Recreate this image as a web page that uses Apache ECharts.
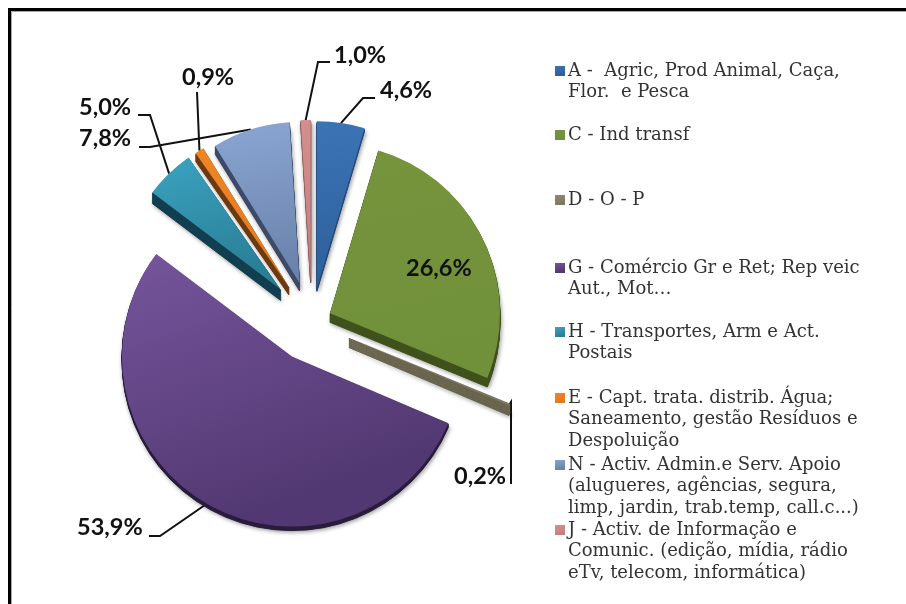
<!DOCTYPE html>
<html>
<head>
<meta charset="utf-8">
<script src="https://cdn.jsdelivr.net/npm/echarts@6/dist/echarts.min.js"></script>
<style>
  html, body { margin: 0; padding: 0; background: #fff; }
  #main { width: 906px; height: 604px; }
</style>
</head>
<body>
<div id="main"></div>
<script>
// dados
const categories = [
  'A -  Agric, Prod Animal, Caça,\nFlor.  e Pesca',
  'C - Ind transf',
  'D - O - P',
  'G - Comércio Gr e Ret; Rep veic\nAut., Mot…',
  'H - Transportes, Arm e Act.\nPostais',
  'E - Capt. trata. distrib. Água;\nSaneamento, gestão Resíduos e\nDespoluição',
  'N - Activ. Admin.e Serv. Apoio\n(alugueres, agências, segura,\nlimp, jardin, trab.temp, call.c...)',
  'J - Activ. de Informação e\nComunic. (edição, mídia, rádio\neTv, telecom, informática)'
]
const values = [4.6, 26.6, 0.2, 53.9, 5.0, 0.9, 7.8, 1.0]

// estilo de cada fatia
const topColors = [
  ['#3b74b6', '#2d5f9a'], ['#76943c', '#70903a'], ['#8f8a70', '#7d7860'], ['#76559c', '#523872'],
  ['#3ba3c0', '#2a7e96'], ['#f08526', '#e07a20'], ['#8ba6d4', '#6a82aa'], ['#d48e8e', '#c67f7f']
]
const sideColors = ['#24497a', '#40521c', '#6a654f', '#2a1c3d', '#123f50', '#6e3a0e', '#3d4a68', '#8a5a5a']
const explode = [34, 20, 40, 40, 45, 42, 41, 42]
const radius = [167, 170, 174, 170, 161, 163, 161, 160]
const depth = [3, 9, 10, 4, 11, 8, 8, 3]
const pieCenter = [312, 322]

// posicao das etiquetas: [x, y, cotovelo, fim da linha]
const labelPlaces = [
  [380, 90, [363, 98], [375, 98]],
  [406, 268, null, null],
  [454, 476, [511, 402], [511, 484]],
  [77, 527, [160, 536], [149, 536]],
  [79, 107, [150, 115], [138, 115]],
  [182, 77, [197, 92], [197, 92]],
  [79, 138, [150, 147], [139, 147]],
  [334, 55, [318, 62], [330, 62]]
]
const legendLineY = [71, 135, 200, 268, 332, 398, 465, 530]
const legendLineHeight = 21.5

const fmt = v => v.toFixed(1).replace('.', ',') + '%'

const chart = echarts.init(document.getElementById('main'))

const series = []
let cum = 0
values.forEach((v, i) => {
  const midAngle = (cum + v / 2) * 3.6 * Math.PI / 180
  const cx = pieCenter[0] + explode[i] * Math.sin(midAngle)
  const cy = pieCenter[1] - explode[i] * Math.cos(midAngle)
  const startAngle = 90 - cum * 3.6
  const base = {
    type: 'pie',
    radius: [0, radius[i]],
    startAngle,
    clockwise: true,
    animation: false,
    silent: true,
    avoidLabelOverlap: false,
    label: { show: false },
    labelLine: { show: false }
  }
  const rest = { value: 100 - v, name: 'rest', itemStyle: { color: 'transparent', borderWidth: 0 } }

  // lado da fatia, uma camada por pixel
  for (let d = depth[i]; d >= 1; d--) {
    const sideStyle = { color: sideColors[i], borderColor: sideColors[i], borderWidth: 1 }
    series.push({
      ...base,
      center: [cx, cy + d],
      data: [
        {
          value: v,
          itemStyle: d === depth[i]
            ? { ...sideStyle, shadowColor: 'rgba(0,0,0,0.4)', shadowBlur: 4, shadowOffsetX: 1, shadowOffsetY: 1 }
            : sideStyle
        },
        rest
      ]
    })
  }

  const place = labelPlaces[i]
  series.push({
    ...base,
    center: [cx, cy],
    data: [
      {
        value: v,
        name: categories[i],
        itemStyle: {
          color: {
            type: 'linear', x: 0, y: 0, x2: 0.3, y2: 1,
            colorStops: [{ offset: 0, color: topColors[i][0] }, { offset: 1, color: topColors[i][1] }]
          }
        },
        label: {
          show: true,
          position: 'outside',
          formatter: () => fmt(v),
          fontFamily: 'Lato',
          fontWeight: 'bold',
          fontSize: 23.5,
          color: '#111'
        },
        labelLine: {
          show: place[3] !== null,
          lineStyle: { color: '#111', width: 2 }
        }
      },
      rest
    ],
    labelLayout: params => {
      if (params.dataIndex !== 0) return {}
      const out = { x: place[0], y: place[1], align: 'left', verticalAlign: 'middle' }
      if (place[3] && params.labelLinePoints) {
        out.labelLinePoints = [params.labelLinePoints[0], place[2], place[3]]
      }
      return out
    }
  })
  cum += v
})

// uma legenda por entrada, para manter o espacamento do original
const legends = categories.map((name, i) => {
  const lines = name.split('\n').length
  const blanks = 2 * lines - 1
  return {
    data: [{ name, icon: 'rect' }],
    left: 555,
    top: legendLineY[i] - blanks * legendLineHeight / 2,
    orient: 'vertical',
    padding: 0,
    itemWidth: 10,
    itemHeight: 10,
    itemGap: 0,
    selectedMode: false,
    // linhas em branco antes do nome: o simbolo fica ao lado da primeira linha
    formatter: n => '\n'.repeat(lines - 1) + n,
    textStyle: {
      fontFamily: 'DejaVu Serif',
      fontSize: 18,
      lineHeight: legendLineHeight,
      color: '#333',
      padding: [0, 0, 0, -2]
    }
  }
})

chart.setOption({
  backgroundColor: '#fff',
  legend: legends,
  series,
  // moldura: so em cima e a esquerda
  graphic: [
    {
      type: 'polyline',
      silent: true,
      z: -1,
      shape: { points: [[11.5, 604], [11.5, 11.5], [906, 11.5]] },
      style: { fill: null, stroke: '#a8a8a8', lineWidth: 1 }
    },
    {
      type: 'polyline',
      silent: true,
      z: -1,
      shape: { points: [[9.5, 604], [9.5, 9.5], [906, 9.5]] },
      style: { fill: null, stroke: '#000', lineWidth: 3 }
    }
  ]
})
</script>
</body>
</html>
